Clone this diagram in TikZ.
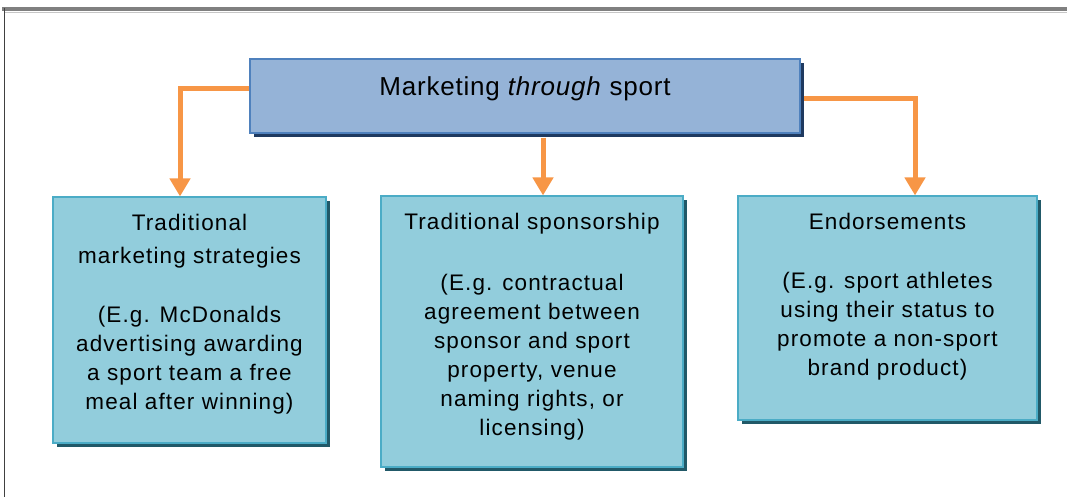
\documentclass[tikz,border=0pt]{standalone}
\usepackage{fontspec}
\setmainfont{Liberation Sans}
\newfontfamily\boxfont[LetterSpace=5]{Liberation Sans}
\newfontfamily\titlefont[LetterSpace=3]{Liberation Sans}
\usetikzlibrary{arrows.meta, positioning, shadows}
\definecolor{topfill}{HTML}{95B3D7}
\definecolor{topline}{HTML}{4F81BD}
\definecolor{topshadow}{HTML}{1F3A60}
\definecolor{subfill}{HTML}{92CDDC}
\definecolor{subline}{HTML}{4BACC6}
\definecolor{subshadow}{HTML}{215968}
\definecolor{arroworange}{HTML}{F79646}

\begin{document}
\begin{tikzpicture}
    \useasboundingbox (0,0) rectangle (26.675,-12.425);
    % Setup the styles for the boxes
        \tikzset{top box/.style={rectangle,
                                 draw=topline,
                                 line width=0.8pt,
                                 fill=topfill,
                                 minimum width=13.75cm,
                                 minimum height=1.85cm,
                                 drop shadow={shadow xshift=0.09cm,
                                              shadow yshift=-0.09cm,
                                              fill=topshadow,
                                              opacity=1}},
                 sub box/.style={rectangle,
                                 draw=subline,
                                 line width=0.8pt,
                                 fill=subfill,
                                 drop shadow={shadow xshift=0.09cm,
                                              shadow yshift=-0.09cm,
                                              fill=subshadow,
                                              opacity=1}},
                 box text/.style={anchor=north,
                                  align=center,
                                  inner sep=0pt,
                                  font=\boxfont\fontsize{16}{20.6}\selectfont}}
        % Draw the frame
        \draw[gray!45, line width=0.7pt] (0.1,-0.31) -- (26.675,-0.31);
        \draw[black!50, line width=2.5pt] (0.06,-0.22) -- (26.675,-0.22);
        \draw[black!75, line width=1pt] (0.11,-0.2) -- (0.11,-12.425);
        % Draw the boxes
        \node[top box] at (13.125, -2.4) (through) {};
        \node[font=\titlefont\fontsize{18.5}{22}\selectfont]
            at (13.125, -2.225) (title) {Marketing \textit{through} sport};
        \node[sub box, minimum width=6.825cm, minimum height=6.15cm]
            at (4.7375, -8.0) (trad) {};
        \node[sub box, minimum width=7.55cm, minimum height=6.775cm]
            at (13.3, -8.2875) (spons) {};
        \node[sub box, minimum width=7.475cm, minimum height=5.6cm]
            at (22.1875, -7.7) (endo) {};
        % Put the texts in the boxes
        \node[box text] at ([yshift=-0.43cm]trad.north) (tradtext)
            {Traditional\\[3pt] marketing strategies\\[21.5pt]
             (E.g. McDonalds\\ advertising awarding\\
             a sport team a free\\ meal after winning)};
        \node[box text] at ([yshift=-0.43cm]spons.north) (sponstext)
            {Traditional sponsorship\\[23pt]
             (E.g. contractual\\ agreement between\\ sponsor and sport\\
             property, venue\\ naming rights, or\\ licensing)};
        \node[box text] at ([yshift=-0.43cm]endo.north) (endotext)
            {Endorsements\\[21.5pt]
             (E.g. sport athletes\\ using their status to\\
             promote a non-sport\\ brand product)};
        % Connect the boxes with arrows
        \draw[arroworange,
              line width=0.125cm,
              -{Triangle[width=0.5cm, length=0.45cm]}]
        ([yshift=0.175cm]through.west) -| ([xshift=-0.2375cm]trad.north);
        \draw[arroworange,
              line width=0.125cm,
              -{Triangle[width=0.5cm, length=0.45cm]}]
        ([xshift=0.45cm, yshift=-0.1cm]through.south) -- ([xshift=0.275cm]spons.north);
        \draw[arroworange,
              line width=0.125cm,
              -{Triangle[width=0.5cm, length=0.45cm]}]
        ([xshift=0.08cm, yshift=-0.075cm]through.east) -| ([xshift=0.6875cm]endo.north);
\end{tikzpicture}
\end{document}
